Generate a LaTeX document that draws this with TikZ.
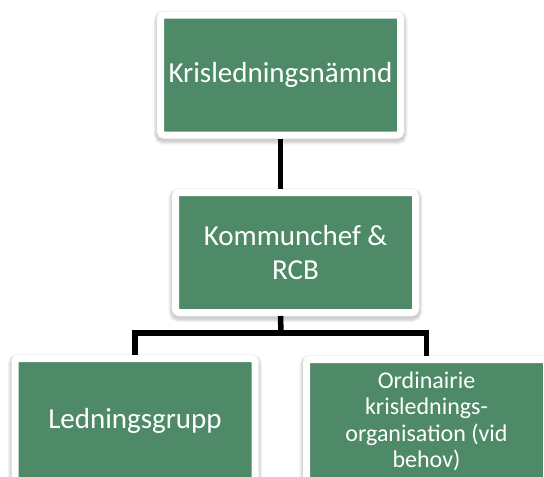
\documentclass[tikz,border=0pt]{standalone}
\usepackage{fontspec}
\setmainfont{Carlito}
\usetikzlibrary{shadows}
\definecolor{boxgreen}{RGB}{78,138,103}
\begin{document}
\begin{tikzpicture}[x=1pt,y=-1pt,
  softshadow/.style={general shadow={shadow yshift=-2.5pt, opacity=0.05, fill=black, draw=black, line width=#1}},
  orgbox/.style={fill=boxgreen, draw=white, line width=7pt, rounded corners=3.5pt,
    minimum width=240pt, minimum height=120pt, inner sep=0pt, text=white,
    font=\fontsize{29}{34}\selectfont, align=center,
    softshadow=14pt, softshadow=12pt, softshadow=10pt, softshadow=8pt},
  conn/.style={draw=black, line width=5.5pt}]
\useasboundingbox (0,0) rectangle (544,477);
\clip (0,0) rectangle (544,477);
\node[orgbox] (top) at (280.5,75) {Krisledningsnämnd};
\node[orgbox] (mid) at (295.5,252.5) {Kommunchef \&\\RCB};
\node[orgbox, minimum height=124pt] (bl) at (135,420.5) {Ledningsgrupp};
\node[orgbox, minimum height=124pt, font=\fontsize{24}{26.5}\selectfont] (br) at (426.5,421.5) {Ordinairie\\krislednings-\\organisation (vid\\behov)};
\coordinate (hub) at (281,333);
\draw[conn] (top.south) -- (top.south |- mid.north);
\draw[conn] (top.south |- mid.south) -- (hub);
\draw[conn] (bl.north) |- (hub) -| (br.north);
\end{tikzpicture}
\end{document}
